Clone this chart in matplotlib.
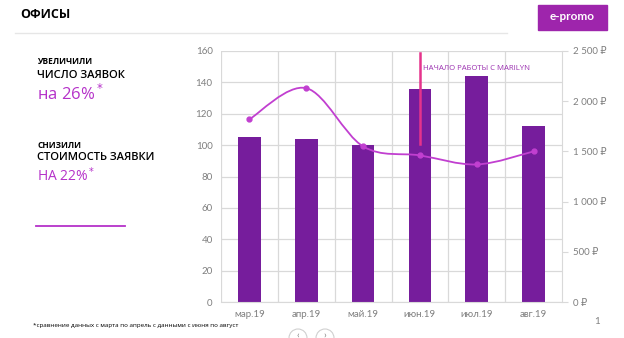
import matplotlib
matplotlib.use("Agg")
import matplotlib.pyplot as plt
from matplotlib.path import Path
import matplotlib.patches as patches
from matplotlib.ticker import FuncFormatter

# данные
months = ["мар.19", "апр.19", "май.19", "июн.19", "июл.19", "авг.19"]
leads = [105, 104, 100, 136, 144, 112]
cost = [1820, 2130, 1550, 1460, 1370, 1500]
start_idx = 3  # начало работы с Marilyn

bar_color = "#761d9c"
line_color = "#c13fd0"
accent = "#b531c9"
grid_color = "#d9d9d9"
tick_color = "#7f7f7f"

plt.rcParams["font.family"] = ["Lato", "DejaVu Sans"]

fig = plt.figure(figsize=(6.24, 3.38), dpi=100)

# шапка
fig.text(20 / 624, 1 - 15 / 338, "ОФИСЫ", fontsize=9, fontweight="bold",
         va="center", family=["Open Sans", "DejaVu Sans"])
fig.add_artist(plt.Line2D([15 / 624, 507 / 624], [1 - 33 / 338, 1 - 33 / 338],
                          color="#e6e6e6", lw=1))
fig.patches.append(patches.Rectangle((538 / 624, 1 - 30 / 338), 69 / 624, 25 / 338,
                                     transform=fig.transFigure, color="#9e25ac"))
fig.text(572 / 624, 1 - 17 / 338, "e-promo", color="white", fontsize=8.5,
         fontweight="bold", ha="center", va="center")

# текст слева
fs = ["Open Sans", "DejaVu Sans"]
fig.text(37 / 624, 1 - 62 / 338, "УВЕЛИЧИЛИ", fontsize=6, fontweight="bold", va="center", family=fs)
fig.text(37 / 624, 1 - 75 / 338, "ЧИСЛО ЗАЯВОК", fontsize=8, fontweight="semibold", va="center", family=fs)
fig.text(37 / 624, 1 - 94 / 338, "на 26%$^*$", fontsize=12, color=accent, va="center", family=fs)
fig.text(37 / 624, 1 - 145 / 338, "СНИЗИЛИ", fontsize=6, fontweight="bold", va="center", family=fs)
fig.text(37 / 624, 1 - 158 / 338, "СТОИМОСТЬ ЗАЯВКИ", fontsize=8, fontweight="semibold", va="center", family=fs)
fig.text(37 / 624, 1 - 176 / 338, "НА 22%$^*$", fontsize=10, color=accent, va="center", family=fs)
fig.add_artist(plt.Line2D([36 / 624, 125 / 624], [1 - 226 / 338, 1 - 226 / 338],
                          color=accent, lw=1.3))

fig.text(33 / 624, 1 - 325 / 338,
         "*сравнение данных с марта по апрель с данными с июня по август",
         fontsize=4.5, va="center", family=fs)
fig.text(594 / 624, 1 - 322 / 338, "1", fontsize=7, color=tick_color, va="center")
for cx in (298, 325):
    fig.patches.append(patches.Ellipse((cx / 624, 1 - 338 / 338), 18 / 624, 18 / 338,
                                       transform=fig.transFigure, fill=False,
                                       ec="#d0d0d0", lw=0.8))
fig.text(298 / 624, 1 - 335 / 338, "‹", fontsize=7, ha="center", va="center", color="#808080")
fig.text(325 / 624, 1 - 335 / 338, "›", fontsize=7, ha="center", va="center", color="#808080")

# график
ax = fig.add_axes([221 / 624, 1 - 302 / 338, 341 / 624, 251 / 338])
x = list(range(len(months)))
ax.bar(x, leads, width=0.4, color=bar_color, zorder=2)
ax.set_xlim(-0.5, len(months) - 0.5)
ax.set_ylim(0, 160)
ax.set_yticks(range(0, 161, 20))
ax.set_xticks(x)
ax.set_xticklabels(months)
ax.set_xticks([i + 0.5 for i in x[:-1]], minor=True)
ax.grid(axis="y", color=grid_color, lw=0.9, zorder=0)
ax.grid(axis="x", which="minor", color=grid_color, lw=0.9, zorder=0)
for s in ["top", "left"]:
    ax.spines[s].set_visible(False)
ax.spines["right"].set_color(grid_color)
ax.spines["bottom"].set_color(grid_color)
ax.tick_params(axis="both", which="both", length=0, labelsize=7, colors=tick_color, pad=6)
ax.axvline(-0.5, color=grid_color, lw=0.9, zorder=0)

ax2 = ax.twinx()
ax2.set_ylim(0, 2500)
ax2.set_yticks(range(0, 2501, 500))
ax2.yaxis.set_major_formatter(FuncFormatter(lambda v, p: f"{int(v):,}".replace(",", " ") + " ₽"))
for s in ax2.spines.values():
    s.set_visible(False)
ax2.tick_params(axis="y", length=4, labelsize=7, colors=tick_color, pad=4)
ax2.tick_params(axis="y", color=grid_color)

# сглаженная линия (кривые Безье через точки)
verts = [(x[0], cost[0])]
codes = [Path.MOVETO]
n = len(cost)
for i in range(n - 1):
    p0 = (x[max(i - 1, 0)], cost[max(i - 1, 0)])
    p1 = (x[i], cost[i])
    p2 = (x[i + 1], cost[i + 1])
    p3 = (x[min(i + 2, n - 1)], cost[min(i + 2, n - 1)])
    c1 = (p1[0] + (p2[0] - p0[0]) / 6, p1[1] + (p2[1] - p0[1]) / 6)
    c2 = (p2[0] - (p3[0] - p1[0]) / 6, p2[1] - (p3[1] - p1[1]) / 6)
    verts += [c1, c2, p2]
    codes += [Path.CURVE4] * 3
ax2.add_patch(patches.PathPatch(Path(verts, codes), fill=False, ec=line_color, lw=1.3, zorder=3))
ax2.plot(x, cost, "o", color=line_color, ms=3.5, zorder=4)

# отметка начала работы
ax.plot([start_idx, start_idx], [101, 159], color="#e5338c", lw=1.8, zorder=5)
ax.text(start_idx + 0.06, 149, "НАЧАЛО РАБОТЫ С MARILYN", fontsize=5.6, color="#9b30b0",
        va="center", family=fs)

fig.savefig("out.png", dpi=100)
